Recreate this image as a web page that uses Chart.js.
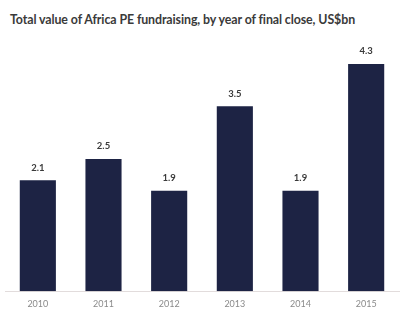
<!DOCTYPE html>
<html><head><meta charset="utf-8">
<script src="https://cdn.jsdelivr.net/npm/chart.js@4/dist/chart.umd.min.js"></script>
<style>
html,body{margin:0;padding:0;background:#fff;width:416px;height:326px;overflow:hidden}
#wrap{position:relative;width:416px;height:326px}
#title{position:absolute;left:10px;top:12px;font-family:Lato,"Open Sans",sans-serif;font-weight:700;font-size:12.4px;color:#3a3a3a;white-space:nowrap;letter-spacing:-0.1px}
canvas{position:absolute;left:0;top:0}
</style></head><body>
<div id="wrap">
<div id="title">Total value of Africa PE fundraising, by year of final close, US$bn</div>
<canvas id="c" width="416" height="326"></canvas>
</div>
<script>
const categories = ["2010","2011","2012","2013","2014","2015"];
const values = [2.1, 2.5, 1.9, 3.5, 1.9, 4.3];
const valueLabels = ["2.1","2.5","1.9","3.5","1.9","4.3"];

const labelPlugin = {
  id: 'valueLabels',
  afterDatasetsDraw(chart) {
    const ctx = chart.ctx;
    const meta = chart.getDatasetMeta(0);
    ctx.save();
    ctx.font = 'bold 9.5px Lato, "Open Sans", sans-serif';
    ctx.fillStyle = '#3a3a3a';
    ctx.textAlign = 'center';
    ctx.textBaseline = 'bottom';
    meta.data.forEach((bar, i) => {
      ctx.fillText(valueLabels[i], bar.x, bar.y - 8);
    });
    ctx.restore();
  }
};

new Chart(document.getElementById('c'), {
  type: 'bar',
  data: {
    labels: categories,
    datasets: [{
      data: values,
      backgroundColor: '#1d2344',
      borderWidth: 0,
      barPercentage: 0.55,
      categoryPercentage: 1.0
    }]
  },
  options: {
    responsive: false,
    animation: false,
    devicePixelRatio: 1,
    layout: { padding: { left: 5, right: 17, top: 27, bottom: 18 } },
    plugins: { legend: { display: false }, tooltip: { enabled: false }, title: { display: false } },
    scales: {
      x: {
        grid: { display: false },
        border: { display: true, color: '#e2dcdc', width: 1 },
        ticks: { color: '#8a8a8a', font: { family: 'Lato, "Open Sans", sans-serif', size: 9 }, padding: -1 }
      },
      y: {
        display: false,
        min: 0,
        max: 5
      }
    }
  },
  plugins: [labelPlugin]
});
</script>
</body></html>
